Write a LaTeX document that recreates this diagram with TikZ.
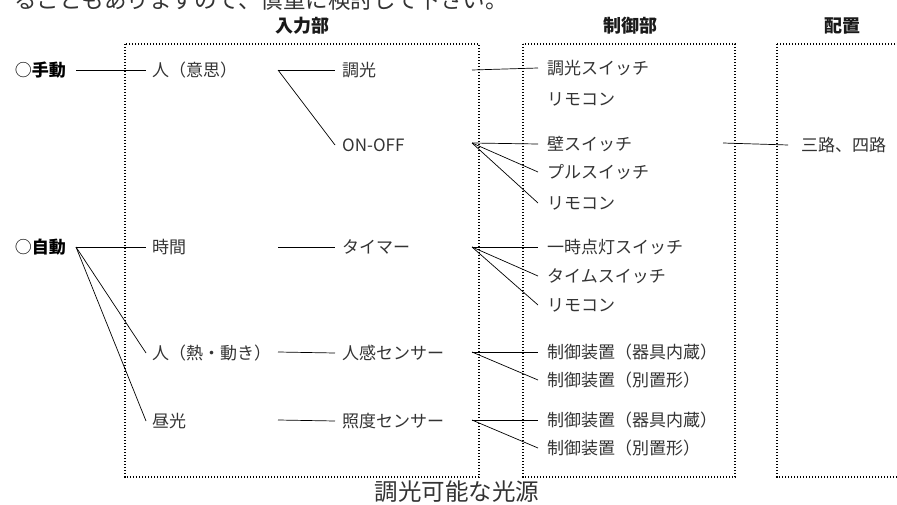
\documentclass[tikz,border=0pt]{standalone}
\usepackage{fontspec}
\setmainfont{Noto Sans CJK JP}
\begin{document}
\begin{tikzpicture}[x=1pt,y=-1pt,
  conn/.style={draw=black,line width=0.7pt},
  dots/.style={draw=black,line width=1.2pt,dash pattern=on 1.2pt off 1.8pt},
  head/.style={font=\fontsize{18}{18}\selectfont\bfseries,text=black!90,inner sep=0pt},
  lbl/.style={font=\fontsize{17}{17}\selectfont,text=black!80,inner ysep=0pt},
  colA/.style={lbl,anchor=west,inner xsep=6pt},
  colB/.style={lbl,anchor=west,inner xsep=7pt},
  colC/.style={lbl,anchor=west,inner xsep=9pt},
  mode/.style={lbl,anchor=east,inner xsep=10pt,text=black},
  big/.style={font=\fontsize{22.5}{22.5}\selectfont,text=black!80,inner sep=0pt}
]
\useasboundingbox (0,0) rectangle (897,505);
\clip (0,0) rectangle (897,505);

% clipped sentence at top and caption at bottom
\node[big,anchor=base west] (note) at (14,9) {ることもありますので、慎重に検討して下さい。};
\node[big,font=\fontsize{23.5}{23.5}\selectfont] (cap) at (457,492) {調光可能な光源};

% headings
\node[head] (hin)  at (302,26) {入力部};
\node[head] (hctl) at (630,26) {制御部};
\node[head] (hhai) at (842,26) {配置};

% dotted frames
\draw[dots] (125,44) rectangle (479,477);
\draw[dots] (523,44) rectangle (735,477);
\draw[dots] (777,44) rectangle (925,477);

% modes
\node[mode] (manual) at (76,70) {○{\bfseries 手動}};
\node[mode] (auto)   at (76,247) {○{\bfseries 自動}};

% input column
\node[colA] (ishi)   at (146,70)  {人（意思）};
\node[colA] (jikan)  at (146,247) {時間};
\node[colA] (netsu)  at (146,353) {人（熱・動き）};
\node[colA] (chuko)  at (146,421) {昼光};

% middle column
\node[colB] (choko)  at (335,70)  {調光};
\node[colB] (onoff)  at (335,145) {ON-OFF};
\node[colB] (timer)  at (335,247) {タイマー};
\node[colB] (jinkan) at (335,353) {人感センサー};
\node[colB] (shodo)  at (335,421) {照度センサー};

% control column
\node[colC] (sw1)  at (538,68)  {調光スイッチ};
\node[colC] (rc1)  at (538,99)  {リモコン};
\node[colC] (kabe) at (538,144) {壁スイッチ};
\node[colC] (pull) at (538,172) {プルスイッチ};
\node[colC] (rc2)  at (538,203) {リモコン};
\node[colC] (ichi) at (538,247) {一時点灯スイッチ};
\node[colC] (time) at (538,276) {タイムスイッチ};
\node[colC] (rc3)  at (538,305) {リモコン};
\node[colC] (sei1) at (538,352) {制御装置（器具内蔵）};
\node[colC] (sei2) at (538,380) {制御装置（別置形）};
\node[colC] (sei3) at (538,420) {制御装置（器具内蔵）};
\node[colC] (sei4) at (538,448) {制御装置（別置形）};

% placement column
\node[lbl,anchor=west,inner xsep=13pt] (sanro) at (788,145) {三路、四路};

% branch points
\coordinate (bI) at (278,70);
\coordinate (bJ) at (278,247);
\coordinate (bN) at (278,352);
\coordinate (bC) at (278,420);
\coordinate (fD) at (472,70);
\coordinate (fO) at (472,143);
\coordinate (fT) at (472,247);
\coordinate (fJ) at (472,352);
\coordinate (fS) at (472,420);
\coordinate (fK) at (723,143);

% connectors
\draw[conn] (manual.east) -- (ishi.west);
\draw[conn] (auto.east) -- (jikan.west);
\draw[conn] (auto.east) -- (netsu.west);
\draw[conn] (auto.east) -- (chuko.west);

\draw[conn] (bI) -- (choko.west);
\draw[conn] (bI) -- (onoff.west);
\draw[conn] (bJ) -- (timer.west);
\draw[conn] (bN) -- (jinkan.west);
\draw[conn] (bC) -- (shodo.west);

\draw[conn] (fD) -- (sw1.west);
\draw[conn] (fO) -- (kabe.west);
\draw[conn] (fO) -- (pull.west);
\draw[conn] (fO) -- (rc2.west);
\draw[conn] (fT) -- (ichi.west);
\draw[conn] (fT) -- (time.west);
\draw[conn] (fT) -- (rc3.west);
\draw[conn] (fJ) -- (sei1.west);
\draw[conn] (fJ) -- (sei2.west);
\draw[conn] (fS) -- (sei3.west);
\draw[conn] (fS) -- (sei4.west);
\draw[conn] (fK) -- (sanro.west);
\end{tikzpicture}
\end{document}
